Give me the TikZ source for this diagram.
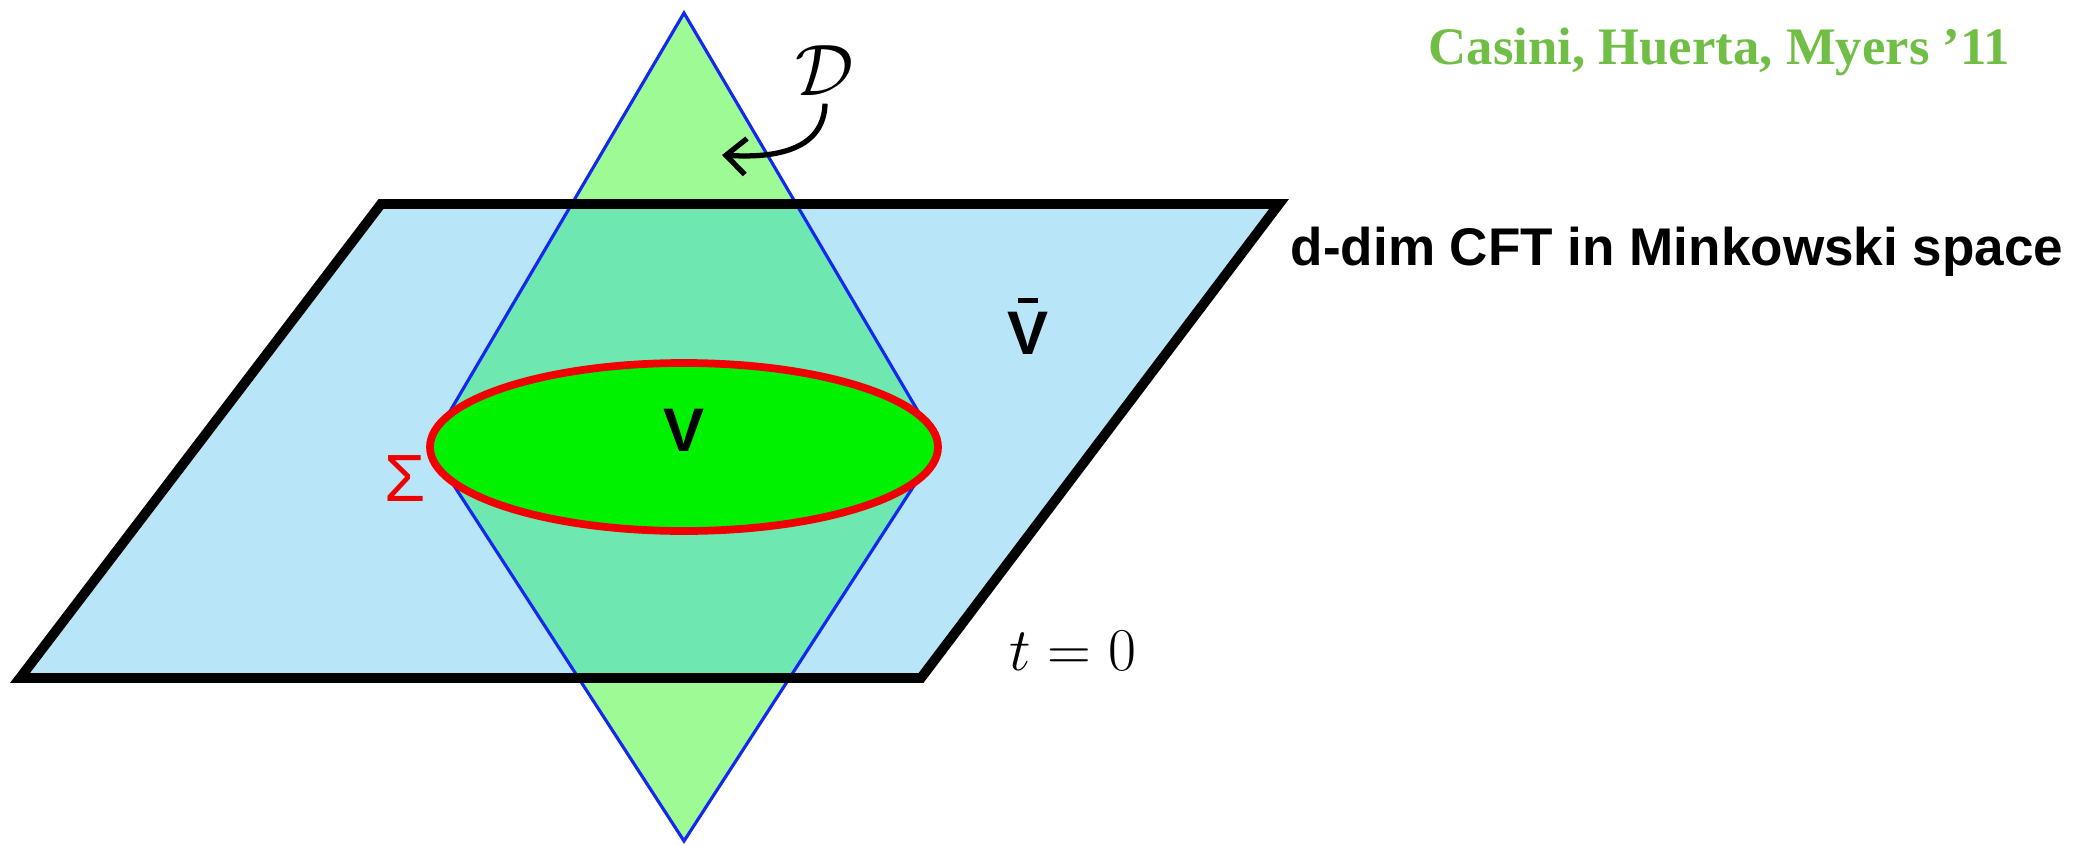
\documentclass[tikz,border=0pt]{standalone}
\usepackage{fontspec}
\newfontfamily\chmsans{Liberation Sans}
\newfontfamily\chmserif{Liberation Serif}
\usetikzlibrary{arrows.meta}
\definecolor{chmazul}{HTML}{B8E6F8}
\definecolor{chmverde}{HTML}{9EFA94}
\definecolor{chmcruz}{HTML}{6EE8B0}
\definecolor{chmregiao}{HTML}{00F200}
\definecolor{chmvermelho}{HTML}{F00000}
\definecolor{chmborda}{HTML}{1428F0}
\definecolor{chmautor}{HTML}{70BE46}
\tikzset{
  chmplano/.style={draw=black, line width=2.8pt},
  chmdiamante/.style={draw=chmborda, line width=0.9pt},
  chmelipse/.style={draw=chmvermelho, fill=chmregiao, line width=2.2pt},
  chmrotulo/.style={font=\chmsans\bfseries\fontsize{17.5}{20}\selectfont, inner sep=1pt},
  chmsigma/.style={font=\chmsans\fontsize{19}{22}\selectfont, text=chmvermelho, inner sep=1pt},
  chmmat/.style={font=\fontsize{16.5}{20}\selectfont, inner sep=2pt},
  chmtitulo/.style={font=\chmsans\bfseries\fontsize{15.1}{18}\selectfont, anchor=base west, inner sep=0pt},
  chmautores/.style={font=\chmserif\bfseries\fontsize{15}{18}\selectfont, text=chmautor, anchor=base west, inner sep=0pt},
  chmseta/.style={-{Straight Barb[length=2mm, width=3.6mm]}, line width=1.5pt},
}
\begin{document}
\begin{tikzpicture}
  \useasboundingbox (0,0) rectangle (20.94,8.45);
  % plano t=0
  \coordinate (p1) at (0.20,1.67);
  \coordinate (p2) at (9.21,1.67);
  \coordinate (p3) at (12.79,6.41);
  \coordinate (p4) at (3.81,6.41);
  % diamante causal
  \coordinate (dtop) at (6.84,8.32);
  \coordinate (dright) at (9.39,3.98);
  \coordinate (dbot) at (6.84,0.04);
  \coordinate (dleft) at (4.29,3.98);
  \coordinate (elc) at (6.84,3.98);
  \fill[chmazul] (p1) -- (p2) -- (p3) -- (p4) -- cycle;
  \fill[chmverde] (dtop) -- (dright) -- (dbot) -- (dleft) -- cycle;
  \begin{scope}
    \clip (p1) -- (p2) -- (p3) -- (p4) -- cycle;
    \fill[chmcruz] (dtop) -- (dright) -- (dbot) -- (dleft) -- cycle;
  \end{scope}
  \draw[chmdiamante] (dtop) -- (dright) -- (dbot) -- (dleft) -- cycle;
  \draw[chmplano] (p1) -- (p2) -- (p3) -- (p4) -- cycle;
  \draw[chmelipse] (elc) ellipse [x radius=2.54, y radius=0.84];
  % rotulos
  \node[chmrotulo] (vlab) at (6.84,4.15) {V};
  \node[chmrotulo] (vbarlab) at (10.28,5.12) {V};
  \draw[line width=1.3pt] ([xshift=-0.10cm, yshift=0.07cm]vbarlab.north) -- ([xshift=0.10cm, yshift=0.07cm]vbarlab.north);
  \node[chmsigma] (sigma) at (4.05,3.66) {Σ};
  \node[chmmat, font=\fontsize{20}{24}\selectfont] (dlab) at (8.25,7.74) {$\mathcal{D}$};
  \node[chmmat] (tlab) at (10.73,1.94) {$t=0$};
  \node[chmtitulo] (cft) at (12.90,5.80) {d-dim CFT in Minkowski space};
  \node[chmautores] (ref) at (14.28,7.81) {Casini, Huerta, Myers ’11};
  \coordinate (dtip) at (7.22,6.90);
  \draw[chmseta] (dlab.south) .. controls (8.24,7.00) and (7.85,6.86) .. (dtip);
\end{tikzpicture}
\end{document}
